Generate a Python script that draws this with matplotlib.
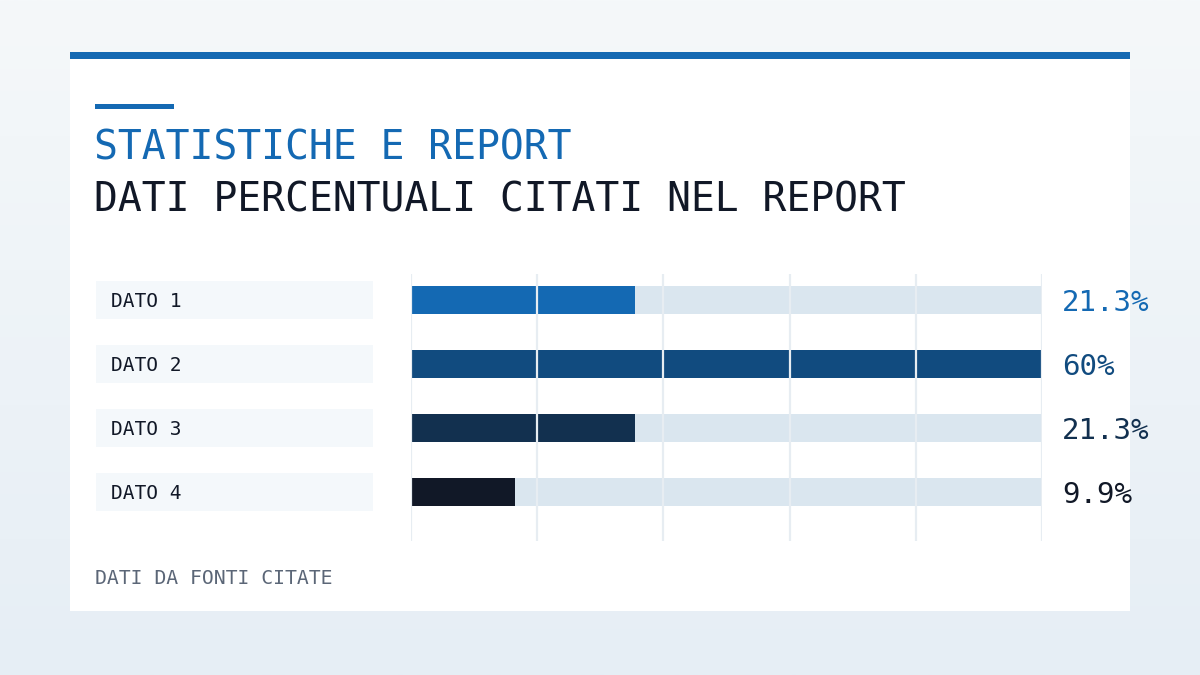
import numpy as np
import matplotlib.pyplot as plt
import matplotlib.transforms as mtransforms
from matplotlib.patches import Rectangle

# data
labels = ["DATO 1", "DATO 2", "DATO 3", "DATO 4"]
values = [21.3, 60, 21.3, 9.9]
value_text = ["21.3%", "60%", "21.3%", "9.9%"]
bar_colors = ["#1469b3", "#114b7f", "#12304f", "#111827"]
scale_max = 60
grid_ticks = [0, 12, 24, 36, 48, 60]

title_top = "STATISTICHE E REPORT"
title_main = "DATI PERCENTUALI CITATI NEL REPORT"
footer = "DATI DA FONTI CITATE"

W, H = 1200, 675
FONT = "DejaVu Sans Mono"

fig = plt.figure(figsize=(W / 100, H / 100), dpi=100)

# background in pixel coordinates
bg = fig.add_axes([0, 0, 1, 1])
bg.set_xlim(0, W)
bg.set_ylim(H, 0)
bg.axis("off")
grad = np.linspace(0, 1, 256).reshape(-1, 1)
c0 = np.array([0xf5, 0xf8, 0xfa]) / 255
c1 = np.array([0xe6, 0xee, 0xf5]) / 255
img = c0 + (c1 - c0) * grad[:, :, None]
bg.imshow(img, extent=[0, W, H, 0], aspect="auto", zorder=0)

# card
bg.add_patch(Rectangle((70, 52), 1060, 559, facecolor="white", edgecolor="none", zorder=1))
bg.add_patch(Rectangle((70, 52), 1060, 7, facecolor="#1469b3", edgecolor="none", zorder=2))
bg.add_patch(Rectangle((95, 104), 79, 5, facecolor="#1469b3", edgecolor="none", zorder=2))

bg.text(94, 160, title_top, fontsize=28.6, family=FONT, color="#1469b3", va="baseline", zorder=3)
bg.text(94, 211, title_main, fontsize=28.6, family=FONT, color="#111827", va="baseline", zorder=3)
bg.text(95, 584, footer, fontsize=14.2, family=FONT, color="#5b6677", va="baseline", zorder=3)

# bar area
x0, x1 = 411, 1042
y_top, y_bot = 274, 541
ax = fig.add_axes([x0 / W, 1 - y_bot / H, (x1 - x0) / W, (y_bot - y_top) / H])
ax.set_xlim(0, scale_max)
ax.set_ylim(3 + 49 / 64, -26 / 64)
ax.axis("off")

ypos = np.arange(len(labels))
bh = 28 / 64
ax.barh(ypos, [scale_max] * len(labels), height=bh, color="#dae6ef", zorder=1)
ax.barh(ypos, values, height=bh, color=bar_colors, zorder=2)
for t in grid_ticks:
    ax.axvline(t, color="#e7edf2", lw=1.6, zorder=3)

# row labels and values, x in figure pixels, y in data
blend = mtransforms.blended_transform_factory(fig.transFigure, ax.transData)
txt_tr = mtransforms.offset_copy(blend, fig=fig, y=-7, units="dots")
val_tr = mtransforms.offset_copy(blend, fig=fig, y=-11, units="dots")
box_h = 38 / 64
for i, (lab, vt, col) in enumerate(zip(labels, value_text, bar_colors)):
    ax.add_patch(Rectangle((96 / W, i - box_h / 2), 277 / W, box_h, transform=blend,
                           facecolor="#f4f8fb", edgecolor="none", clip_on=False, zorder=0))
    ax.text(111 / W, i, lab, transform=txt_tr, fontsize=14, family=FONT,
            color="#111827", va="baseline", clip_on=False)
    ax.text(1062 / W, i, vt, transform=val_tr, fontsize=21, family=FONT,
            color=col, va="baseline", clip_on=False)

fig.savefig("out.png", dpi=100)
